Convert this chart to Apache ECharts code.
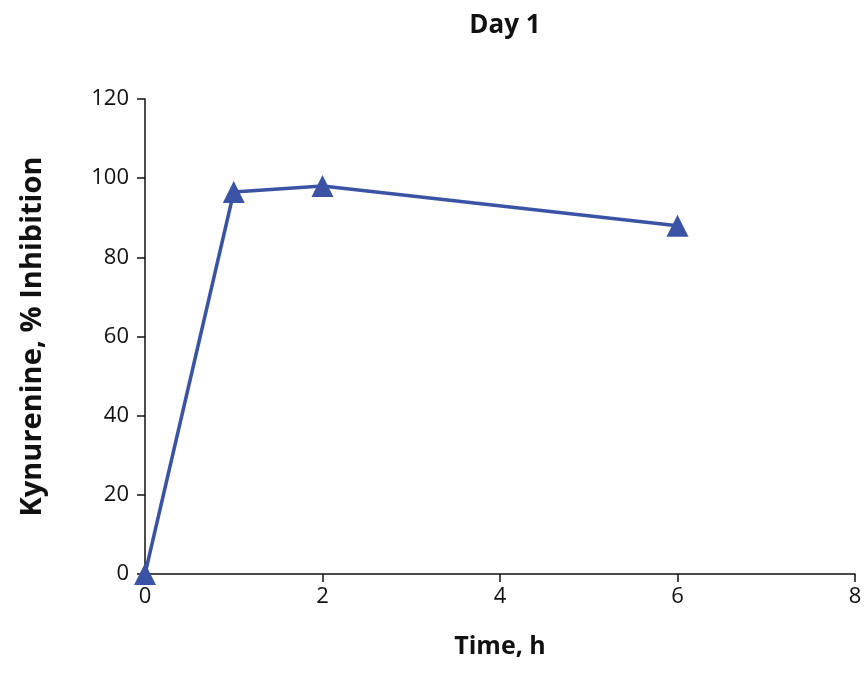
<!DOCTYPE html>
<html>
<head>
<meta charset="utf-8">
<script src="https://cdn.jsdelivr.net/npm/echarts@6/dist/echarts.min.js"></script>
<style>html,body{margin:0;padding:0;background:#fff}#main{width:868px;height:693px}</style>
</head>
<body>
<div id="main"></div>
<script>
// data
var timeHours = [0, 1, 2, 6];
var inhibition = [0, 96.5, 98, 88];

var chart = echarts.init(document.getElementById('main'));
var font = 'Open Sans';
chart.setOption({
  animation: false,
  title: {
    text: 'Day 1', left: 500, top: 8, textAlign: 'center',
    textStyle: { fontFamily: font, fontSize: 26, fontWeight: 'bold', color: '#111' }
  },
  grid: { left: 145, right: 13, top: 99, bottom: 119 },
  xAxis: {
    type: 'value', min: 0, max: 8, interval: 2,
    name: 'Time, h', nameLocation: 'middle', nameGap: 60,
    nameTextStyle: { fontFamily: font, fontSize: 25, fontWeight: 'bold', color: '#111' },
    axisLine: { lineStyle: { color: '#111', width: 1.5 } },
    axisTick: { length: 8, lineStyle: { color: '#111', width: 1.5 } },
    axisLabel: { fontFamily: font, fontSize: 22, color: '#111', margin: 12 },
    splitLine: { show: false }
  },
  yAxis: {
    type: 'value', min: 0, max: 120, interval: 20,
    name: 'Kynurenine, % Inhibition', nameLocation: 'middle', nameGap: 98,
    nameTextStyle: { fontFamily: font, fontSize: 29, fontWeight: 'bold', color: '#111' },
    axisLine: { show: true, lineStyle: { color: '#111', width: 1.5 } },
    axisTick: { show: true, length: 8, lineStyle: { color: '#111', width: 1.5 } },
    axisLabel: { fontFamily: font, fontSize: 22, color: '#111', margin: 16 },
    splitLine: { show: false }
  },
  series: [{
    type: 'line',
    data: timeHours.map(function (t, i) { return [t, inhibition[i]]; }),
    symbol: 'triangle', symbolSize: 22,
    lineStyle: { color: '#3a53a4', width: 3.5 },
    itemStyle: { color: '#3a53a4' },
    clip: false
  }]
});
</script>
</body>
</html>
